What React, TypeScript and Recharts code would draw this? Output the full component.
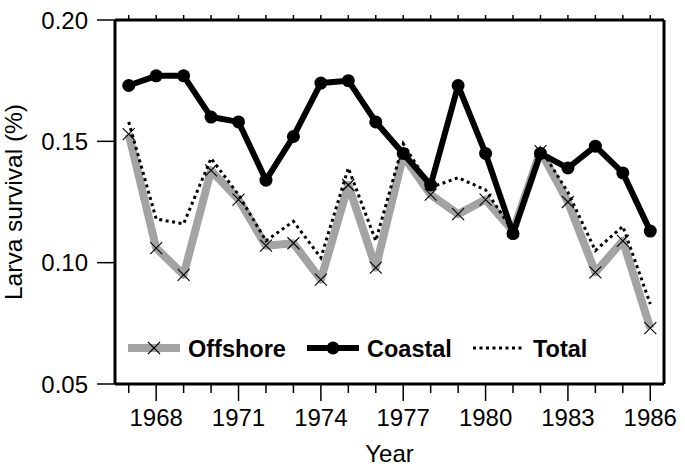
import { LineChart, Line, XAxis, YAxis, Legend } from "recharts";

const years = [
  1967, 1968, 1969, 1970, 1971, 1972, 1973, 1974, 1975, 1976,
  1977, 1978, 1979, 1980, 1981, 1982, 1983, 1984, 1985, 1986,
];
const offshore = [
  0.153, 0.106, 0.095, 0.138, 0.126, 0.107, 0.108, 0.093, 0.132, 0.098,
  0.144, 0.128, 0.120, 0.126, 0.113, 0.146, 0.125, 0.096, 0.109, 0.073,
];
const coastal = [
  0.173, 0.177, 0.177, 0.160, 0.158, 0.134, 0.152, 0.174, 0.175, 0.158,
  0.145, 0.132, 0.173, 0.145, 0.112, 0.145, 0.139, 0.148, 0.137, 0.113,
];
const total = [
  0.158, 0.118, 0.116, 0.143, 0.128, 0.109, 0.117, 0.102, 0.139, 0.109,
  0.149, 0.131, 0.135, 0.130, 0.113, 0.147, 0.129, 0.105, 0.115, 0.083,
];
const yTicks = [0.05, 0.1, 0.15, 0.2];
const majorYears = [1968, 1971, 1974, 1977, 1980, 1983, 1986];

const data = years.map((year, i) => ({
  year,
  offshore: offshore[i],
  coastal: coastal[i],
  total: total[i],
}));

const FONT = "'Liberation Sans', Arial, Helvetica, sans-serif";
const GRAY = "#a3a3a3";

const Cross = ({ cx, cy, s = 6 }: { cx: number; cy: number; s?: number }) => (
  <path
    d={`M${cx - s},${cy - s}L${cx + s},${cy + s}M${cx - s},${cy + s}L${cx + s},${cy - s}`}
    stroke="#000"
    strokeWidth={1.1}
    fill="none"
  />
);

const crossDot = (props: any) => (
  <g key={`x-${props.index}`}>
    <Cross cx={props.cx} cy={props.cy} />
  </g>
);

const BottomTick = (props: any) => {
  const { x, y, payload } = props;
  const major = majorYears.includes(payload.value);
  return (
    <g>
      <line x1={x} x2={x} y1={y} y2={y + (major ? 17 : 9)} stroke="#000" strokeWidth={1.5} />
      {major && (
        <text x={x} y={y + 42} textAnchor="middle" fontSize={24} fontFamily={FONT} fill="#000">
          {payload.value}
        </text>
      )}
    </g>
  );
};

const LegendBox = () => (
  <svg width={480} height={30} style={{ overflow: "visible" }}>
    <line x1={8} x2={60} y1={15} y2={15} stroke={GRAY} strokeWidth={8} />
    <Cross cx={34} cy={15} />
    <text x={68} y={23.5} fontSize={23.5} fontWeight="bold" fontFamily={FONT}>
      Offshore
    </text>
    <line x1={187} x2={239} y1={15} y2={15} stroke="#000" strokeWidth={6} />
    <circle cx={213} cy={15} r={6.5} fill="#000" />
    <text x={247} y={23.5} fontSize={23.5} fontWeight="bold" fontFamily={FONT}>
      Coastal
    </text>
    <line x1={353} x2={402} y1={15} y2={15} stroke="#000" strokeWidth={3} strokeDasharray="3 3.5" />
    <text x={413} y={23.5} fontSize={23.5} fontWeight="bold" fontFamily={FONT}>
      Total
    </text>
  </svg>
);

export default function App() {
  return (
    <div style={{ position: "absolute", left: 0, top: 0, fontFamily: FONT }}>
      <LineChart width={685} height={469} data={data} margin={{ top: 0, right: 0, bottom: 0, left: 0 }}>
        <XAxis
          dataKey="year"
          type="number"
          domain={[1966.5, 1986.5]}
          ticks={years}
          interval={0}
          height={85}
          tickSize={0}
          tickMargin={0}
          tick={BottomTick}
          tickLine={false}
          axisLine={{ stroke: "#000", strokeWidth: 3 }}
          label={{ value: "Year", position: "insideBottom", offset: 7, fontSize: 24, fill: "#000", fontFamily: FONT }}
        />
        <XAxis
          xAxisId="top"
          orientation="top"
          dataKey="year"
          type="number"
          domain={[1966.5, 1986.5]}
          ticks={years}
          interval={0}
          height={20}
          tickSize={5}
          tickFormatter={() => ""}
          tickLine={{ stroke: "#000", strokeWidth: 1.5 }}
          axisLine={{ stroke: "#000", strokeWidth: 3 }}
        />
        <YAxis
          type="number"
          domain={[0.05, 0.2]}
          ticks={yTicks}
          interval={0}
          width={115}
          tickSize={18}
          tickMargin={9}
          tickFormatter={(v: number) => v.toFixed(2)}
          tick={{ fontSize: 24, fill: "#000", fontFamily: FONT }}
          tickLine={{ stroke: "#000", strokeWidth: 1.5 }}
          axisLine={{ stroke: "#000", strokeWidth: 3 }}
          label={{
            value: "Larva survival (%)",
            angle: -90,
            position: "insideLeft",
            offset: 13,
            fontSize: 24.5,
            fill: "#000",
            fontFamily: FONT,
            style: { textAnchor: "middle" },
          }}
        />
        <YAxis
          yAxisId="right"
          orientation="right"
          type="number"
          domain={[0.05, 0.2]}
          ticks={yTicks}
          interval={0}
          width={21}
          tickSize={19}
          tickFormatter={() => ""}
          tickLine={{ stroke: "#000", strokeWidth: 1.5 }}
          axisLine={{ stroke: "#000", strokeWidth: 3 }}
        />
        <Legend
          layout="horizontal"
          verticalAlign="middle"
          align="center"
          content={LegendBox}
          wrapperStyle={{ left: 120, top: 333, width: 480, height: 30 }}
        />
        <Line
          dataKey="offshore"
          stroke={GRAY}
          strokeWidth={8}
          strokeLinejoin="round"
          dot={crossDot}
          activeDot={false}
          isAnimationActive={false}
        />
        <Line
          dataKey="total"
          stroke="#000"
          strokeWidth={3}
          strokeDasharray="3 3.5"
          dot={false}
          activeDot={false}
          isAnimationActive={false}
        />
        <Line
          dataKey="coastal"
          stroke="#000"
          strokeWidth={6}
          strokeLinejoin="round"
          dot={{ r: 6.5, fill: "#000", stroke: "none" }}
          activeDot={false}
          isAnimationActive={false}
        />
      </LineChart>
    </div>
  );
}
